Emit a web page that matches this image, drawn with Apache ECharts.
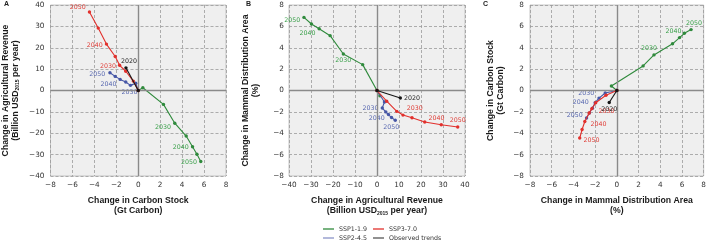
<!DOCTYPE html>
<html><head><meta charset="utf-8">
<script src="https://cdn.jsdelivr.net/npm/echarts@6/dist/echarts.min.js"></script>
<style>html,body{margin:0;padding:0;background:#fff}#c{width:709px;height:240px}</style>
</head><body><div id="c"></div>
<script>
// ---- data ----
const yearsFull = ['2015','2020','2025','2030','2035','2040','2045','2050'];
const yearsBlue = ['2015','2025','2030','2035','2040','2045','2050'];
const yearsObs = ['2015','2020'];

// SSP1-1.9
const carbonG  = [0, 0.42, 2.3, 3.33, 4.37, 4.95, 5.35, 5.7];
const revenueG = [0, 1.3, -6.5, -15.3, -21.3, -26.3, -29.8, -33.2];
const mammalG  = [0, -0.5, 2.42, 3.42, 5.13, 5.78, 6.22, 6.84];
// SSP2-4.5
const carbonB  = [0, -0.23, -0.71, -1.14, -1.65, -2.1, -2.58];
const revenueB = [0, 3.4, 2.4, 4.0, 5.2, 6.6, 8.3];
const mammalB  = [0, -1.07, -1.64, -2.0, -2.25, -2.53, -2.79];
// SSP3-7.0
const carbonR  = [0, -0.45, -1.14, -1.7, -2.1, -2.9, -3.65, -4.45];
const revenueR = [0, 4.4, 9.0, 11.8, 15.9, 21.7, 29.2, 36.7];
const mammalR  = [0, -1.0, -1.95, -2.3, -2.55, -2.95, -3.2, -3.42];
// Observed trends
const carbonK  = [0, -1.12];
const revenueK = [0, 10.6];
const mammalK  = [0, -0.7];

const xTicksA = [-8, 8, 2], yTicksA = [-40, 40, 10];
const xTicksB = [-40, 40, 10], yTicksB = [-8, 8, 2];
const xTicksC = [-8, 8, 2], yTicksC = [-8, 8, 2];

// ---- styling / layout ----
const scen = [
  {name:'SSP1-1.9', color:'#2f8a3c', lab:'#3aa04a', years:yearsFull, v:{carbon:carbonG, revenue:revenueG, mammal:mammalG}},
  {name:'SSP2-4.5', color:'#4656a6', lab:'#5868b0', years:yearsBlue, v:{carbon:carbonB, revenue:revenueB, mammal:mammalB}},
  {name:'SSP3-7.0', color:'#e2302c', lab:'#e0403a', years:yearsFull, v:{carbon:carbonR, revenue:revenueR, mammal:mammalR}},
  {name:'Observed trends', color:'#151515', lab:'#222', years:yearsObs, v:{carbon:carbonK, revenue:revenueK, mammal:mammalK}}
];
// label placement per panel: scenario index -> year -> [position, dx, dy]
const labelSpec = [
  {0:{'2030':['left',0,4],'2040':['left',0,1],'2050':['left',0,1]},
   1:{'2030':['bottom',-1,0],'2040':['left',0,5],'2050':['left',-1,2]},
   2:{'2030':['left',0,1],'2040':['left',0,1],'2050':['left',0,-5]},
   3:{'2020':['top',3,0]}},
  {0:{'2030':['bottom',0,0],'2040':['left',0,5],'2050':['left',0,3]},
   1:{'2030':['left',0,0],'2040':['left',0,4],'2050':['bottom',-4,0]},
   2:{'2030':['right',0,-7],'2040':['right',0,-4],'2050':['top',0,0]},
   3:{'2020':['right',0,0]}},
  {0:{'2030':['top',-5,0],'2040':['top',-6,0],'2050':['top',3,0]},
   1:{'2030':['left',-1,-5],'2040':['left',0,-6],'2050':['left',0,-3]},
   2:{'2030':['right',3,3],'2040':['right',2,3],'2050':['right',0,2]},
   3:{'2020':['bottom',0,0]}}
];

const titleFont = {fontFamily:'Liberation Sans', fontWeight:'bold', fontSize:8.7, color:'#1a1a1a'};
const rich = {
  b:{...titleFont, lineHeight:10},
  s:{...titleFont, fontSize:5, lineHeight:10, verticalAlign:'bottom', padding:[4,0,0,0]}
};
const nmRevenue = '{b|Change in Agricultural Revenue}\n{b|(Billion USD}{s|2015}{b| per year)}';
const nmCarbon = '{b|Change in Carbon Stock}\n{b|(Gt Carbon)}';
const nmMammal = '{b|Change in Mammal Distribution Area}\n{b|(%)}';
const names = {carbon:nmCarbon, revenue:nmRevenue, mammal:nmMammal};

const panels = [
  {x:'carbon', y:'revenue', grid:{left:49, top:5, width:177, height:171}, xt:xTicksA, yt:yTicksA, yGap:30, yMargin:6, tag:'A', tagX:4},
  {x:'revenue', y:'mammal', grid:{left:289, top:5, width:176, height:171}, xt:xTicksB, yt:yTicksB, yGap:28, yMargin:5, tag:'B', tagX:246},
  {x:'mammal', y:'carbon', grid:{left:530, top:5, width:175, height:171}, xt:xTicksC, yt:yTicksC, yGap:24, yMargin:6, tag:'C', tagX:483}
];

const fmt = v => String(v).replace('-', '\u2212');
const tickText = {fontFamily:'DejaVu Sans', fontSize:7.3, color:'#333'};
const grids = [], xAxes = [], yAxes = [], series = [], graphics = [];

panels.forEach((p, pi) => {
  grids.push({...p.grid, show:true, backgroundColor:'#efefef', borderColor:'#b8b8b8', borderWidth:0.8, containLabel:false});
  const mk = (t, which) => ({
    type:'value', gridIndex:pi, min:t[0], max:t[1], interval:t[2],
    name: names[which], nameLocation:'middle',
    nameTextStyle:{rich: rich, align:'center'},
    axisLine:{show:false}, axisTick:{show:false},
    splitLine:{show:true, lineStyle:{color:'#9a9a9a', width:0.8, type:[3,2]}},
    axisLabel:{...tickText, formatter:fmt}
  });
  const xa = mk(p.xt, p.x); xa.nameGap = 20; xa.axisLabel.margin = 6;
  const ya = mk(p.yt, p.y); ya.nameGap = p.yGap; ya.nameRotate = 90; ya.axisLabel.margin = p.yMargin;
  xAxes.push(xa); yAxes.push(ya);
  // zero lines
  series.push({type:'line', xAxisIndex:pi, yAxisIndex:pi, data:[], silent:true,
    markLine:{silent:true, symbol:'none', label:{show:false}, lineStyle:{color:'#8a8a8a', width:1.4, type:'solid'},
      data:[{xAxis:0},{yAxis:0}]}});
  scen.forEach((s, si) => {
    const spec = labelSpec[pi][si] || {};
    const data = s.years.map((yr, i) => {
      const item = {value:[s.v[p.x][i], s.v[p.y][i]]};
      if (spec[yr]) {
        const [pos, dx, dy] = spec[yr];
        item.label = {show:true, formatter:yr, position:pos, offset:[dx,dy], distance:2,
          color:s.lab, fontFamily:'DejaVu Sans', fontSize:6.3};
      }
      return item;
    });
    series.push({type:'line', name:s.name, xAxisIndex:pi, yAxisIndex:pi, data:data,
      symbol:'circle', symbolSize:3.4, showSymbol:true, animation:false,
      lineStyle:{color:s.color, width:1.1}, itemStyle:{color:s.color},
      label:{show:false}, z: 3 + si});
  });
  graphics.push({type:'text', left:p.tagX, top:1, style:{text:p.tag, font:'bold 7px "Liberation Sans"', fill:'#222'}});
});

const legendBase = {orient:'horizontal', icon:'rect', itemWidth:11, itemHeight:1.3, itemGap:8,
  textStyle:{fontFamily:'DejaVu Sans', fontSize:6.3, color:'#333'}, selectedMode:false};
const legends = [
  {...legendBase, left:318, top:221, data:[{name:'SSP1-1.9', itemStyle:{color:'#2f8a3c'}}]},
  {...legendBase, left:368, top:221, data:[{name:'SSP3-7.0', itemStyle:{color:'#e2302c'}}]},
  {...legendBase, left:318, top:230, data:[{name:'SSP2-4.5', itemStyle:{color:'#8a94c8'}}]},
  {...legendBase, left:368, top:230, data:[{name:'Observed trends', itemStyle:{color:'#555'}}]}
];

const chart = echarts.init(document.getElementById('c'), null, {renderer:'canvas'});
chart.setOption({
  animation:false,
  backgroundColor:'#fff',
  grid:grids, xAxis:xAxes, yAxis:yAxes, series:series, legend:legends, graphic:graphics
});
</script></body></html>
